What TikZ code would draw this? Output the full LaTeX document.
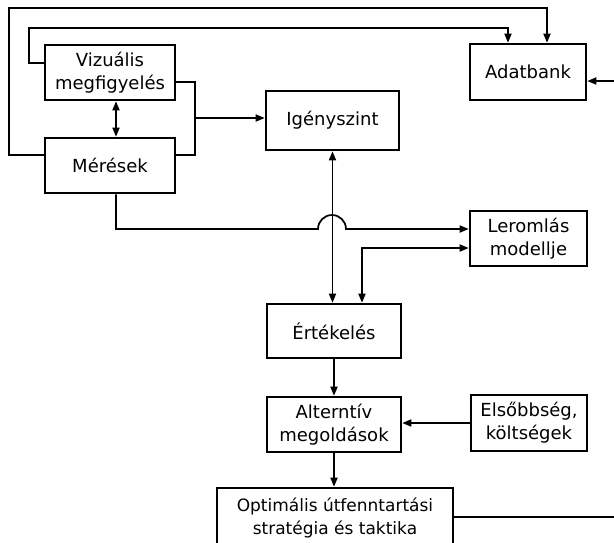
\documentclass[tikz,border=0pt]{standalone}
\usepackage{fontspec}
\setmainfont{DejaVu Sans}
\usetikzlibrary{arrows.meta}
\tikzset{
  blk/.style={draw, line width=2.6pt, align=center, inner sep=0pt,
    font=\fontsize{18}{23}\selectfont},
  conn/.style={line width=1.7pt},
  arr/.style={conn, -{Triangle[length=9pt,width=7pt]}},
  darr/.style={conn, {Triangle[length=9pt,width=7pt]}-{Triangle[length=9pt,width=7pt]}}
}
\begin{document}
\begin{tikzpicture}[x=1pt,y=-1pt]
\useasboundingbox[fill=white] (0,0) rectangle (614,542);
\node[blk, minimum width=130pt, minimum height=55pt] (viz) at (110,72.5) {Vizuális\\megfigyelés};
\node[blk, minimum width=130pt, minimum height=55pt] (mer) at (110,165.5) {Mérések};
\node[blk, minimum width=133pt, minimum height=59pt] (ige) at (332.5,120.5) {Igényszint};
\node[blk, minimum width=116pt, minimum height=56pt] (adat) at (528,72) {Adatbank};
\node[blk, minimum width=117pt, minimum height=55pt] (ler) at (528.5,238.5) {Leromlás\\modellje};
\node[blk, minimum width=134pt, minimum height=54pt] (ert) at (334,331) {Értékelés};
\node[blk, minimum width=134pt, minimum height=55pt] (alt) at (334,424.5) {Alterntív\\megoldások};
\node[blk, minimum width=116pt, minimum height=56pt] (els) at (529,423) {Elsőbbség,\\költségek};
\node[blk, minimum width=236pt, minimum height=60pt, font=\fontsize{17}{23}\selectfont] (opt) at (335,518) {Optimális útfenntartási\\stratégia és taktika};

\coordinate (inA) at (614,81);
\coordinate (outO) at (614,517);
\coordinate (j1) at (195,118);

% outer loop
\draw[arr] ([yshift=10.5pt]mer.west) -| (9,8) -| ([xshift=19pt]adat.north);
% inner loop
\draw[arr] ([yshift=9.5pt]viz.west) -| (29,28) -| ([xshift=-20pt]adat.north);
% from right into Adatbank
\draw[arr] (inA) -- ([yshift=-9pt]adat.east);
% right side bracket
\draw[conn] ([yshift=-9.5pt]viz.east) -| (j1) |- ([yshift=10.5pt]mer.east);
\draw[arr] (j1) -- (j1 -| ige.west);
% viz <-> mer
\draw[darr] ([xshift=6pt]viz.south) -- ([xshift=6pt]mer.north);
% Mérések to Leromlás with hop
\draw[arr] ([xshift=6pt]mer.south) |- (318,229) arc[start angle=180, end angle=0, radius=14pt] -- ([yshift=9.5pt]ler.west);
% Igényszint <-> Értékelés
\draw[darr] (ige.south) -- (ige.south |- ert.north);
% Leromlás <-> Értékelés
\draw[darr] ([yshift=-9.5pt]ler.west) -| ([xshift=28pt]ert.north);
% Értékelés -> Alternatív
\draw[arr] (ert.south) -- (alt.north);
% Elsőbbség -> Alternatív
\draw[arr] (els.west) -- (els.west -| alt.east);
% Alternatív -> Optimális
\draw[arr] (alt.south) -- (alt.south |- opt.north);
% Optimális out
\draw[conn] (opt.east |- outO) -- (outO);
\end{tikzpicture}
\end{document}
